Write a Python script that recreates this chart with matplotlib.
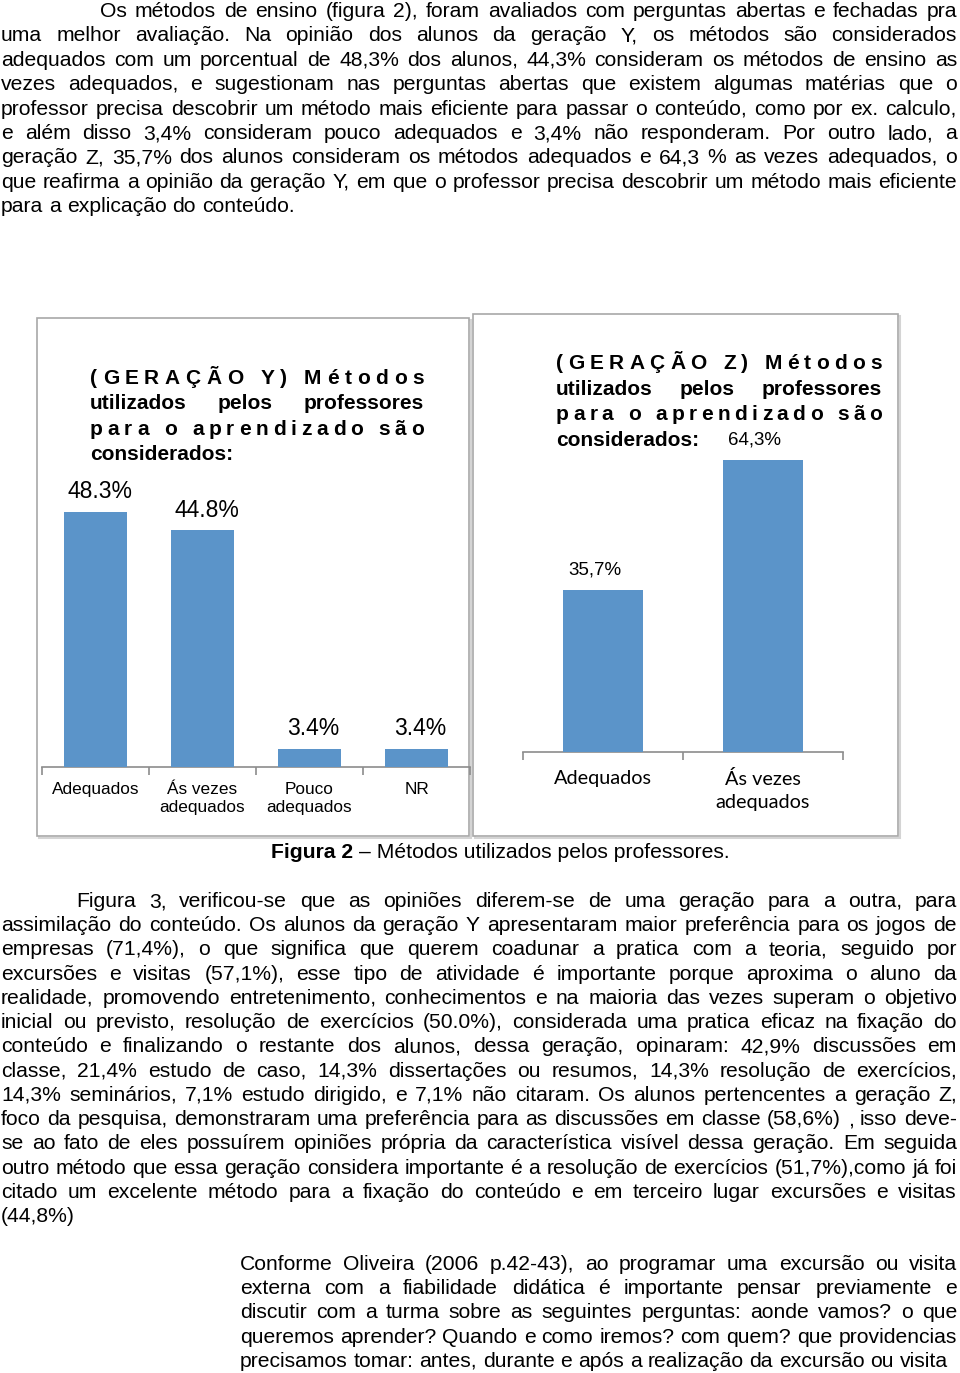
import matplotlib
matplotlib.use("Agg")
import matplotlib.pyplot as plt
from matplotlib.font_manager import FontProperties
from matplotlib.patches import Rectangle

# texto da pagina
par1 = [
    "Os métodos de ensino (figura 2), foram avaliados com perguntas abertas e fechadas pra",
    "uma melhor avaliação. Na opinião dos alunos da geração Y, os métodos são considerados",
    "adequados com um porcentual de 48,3% dos alunos, 44,3% consideram os métodos de ensino as",
    "vezes adequados, e sugestionam  nas perguntas abertas que existem algumas matérias que o",
    "professor precisa descobrir um método mais eficiente para passar o conteúdo, como por ex. calculo,",
    "e além disso 3,4% consideram pouco adequados e 3,4% não responderam.  Por outro lado, a",
    "geração Z, 35,7% dos alunos consideram os métodos adequados e 64,3 % as vezes adequados, o",
    "que reafirma a opinião da geração Y, em que o professor precisa descobrir um método mais eficiente",
    "para a explicação do conteúdo.",
]
par2 = [
    "Figura 3, verificou-se que as opiniões diferem-se de uma geração para a outra, para",
    "assimilação do conteúdo. Os alunos da geração Y apresentaram maior preferência para os jogos de",
    "empresas (71,4%), o que significa que querem coadunar a pratica com a teoria, seguido por",
    "excursões e visitas (57,1%), esse tipo de atividade é importante porque aproxima o aluno da",
    "realidade, promovendo entretenimento, conhecimentos e na maioria das vezes superam o objetivo",
    "inicial ou previsto, resolução de exercícios (50.0%), considerada uma pratica eficaz na fixação do",
    "conteúdo e finalizando o restante dos alunos, dessa geração, opinaram: 42,9% discussões em",
    "classe, 21,4% estudo de caso, 14,3% dissertações ou resumos, 14,3% resolução de exercícios,",
    "14,3% seminários, 7,1% estudo dirigido, e 7,1% não citaram. Os alunos pertencentes a geração Z,",
    "foco da pesquisa, demonstraram uma preferência para as discussões em classe (58,6%) , isso deve-",
    "se ao fato de eles possuírem opiniões própria da característica visível dessa geração. Em seguida",
    "outro método que essa geração considera importante é a resolução de exercícios (51,7%),como já foi",
    "citado um excelente método para a fixação do conteúdo e em terceiro lugar excursões e visitas",
    "(44,8%)",
]
par3 = [
    "Conforme Oliveira (2006 p.42-43), ao programar uma excursão ou visita",
    "externa com a fiabilidade didática é importante pensar previamente e",
    "discutir com a turma sobre as seguintes perguntas: aonde vamos? o que",
    "queremos aprender? Quando e como iremos? com quem? que providencias",
    "precisamos tomar: antes, durante e após a realização da excursão ou visita",
]

# dados dos graficos
cat_y = ["Adequados", "Ás vezes\nadequados", "Pouco\nadequados", "NR"]
val_y = [48.3, 44.8, 3.4, 3.4]
title_y = ["(GERAÇÃO Y) Métodos", "utilizados pelos professores",
           "para o aprendizado são", "considerados:"]

cat_z = ["Adequados", "Ás vezes\nadequados"]
val_z = [35.7, 64.3]
title_z = ["(GERAÇÃO Z) Métodos", "utilizados pelos professores",
           "para o aprendizado são", "considerados:"]

W, H = 960, 1373
BLUE = "#5b94c9"
GRAY = "#8c8c8c"

fig = plt.figure(figsize=(W / 100, H / 100), dpi=100)
bg = fig.add_axes([0, 0, 1, 1])
bg.set_xlim(0, W)
bg.set_ylim(H, 0)
bg.axis("off")
renderer = fig.canvas.get_renderer()

body = FontProperties(family="Liberation Sans", size=15.2)
bold_t = FontProperties(family="Liberation Sans", size=15, weight="bold")


def width(s, fp):
    w, h, d = renderer.get_text_width_height_descent(s, fp, ismath=False)
    return w


def put_line(s, x0, x1, y, fp, justify=True, chars=False):
    if chars:
        tokens = list(s)
        ws = [width(t, fp) if t != " " else width("a a", fp) - width("aa", fp) for t in tokens]
        gap = (x1 - x0 - sum(ws)) / (len(tokens) - 1)
        x = x0
        for t, wd in zip(tokens, ws):
            if t != " ":
                bg.text(x, y, t, fontproperties=fp, va="baseline", ha="left")
            x += wd + gap
        return
    tokens = s.split()
    ws = [width(t, fp) for t in tokens]
    if justify and len(tokens) > 1:
        gap = max((x1 - x0 - sum(ws)) / (len(tokens) - 1), 2.5)
    else:
        gap = width("a a", fp) - width("aa", fp)
    x = x0
    for t, wd in zip(tokens, ws):
        bg.text(x, y, t, fontproperties=fp, va="baseline", ha="left")
        x += wd + gap


def paragraph(lines, x0, x1, y0, step, indent=0, last_justify=False):
    for i, ln in enumerate(lines):
        last = i == len(lines) - 1
        put_line(ln, x0 + (indent if i == 0 else 0), x1, y0 + i * step, body,
                 justify=(not last) or last_justify)


paragraph(par1, 1, 957, 17, 24.4, indent=99)
paragraph(par2, 1, 957, 907, 24.23, indent=75)
paragraph(par3, 240, 957, 1270, 24.25)


def box(x, y, w, h):
    bg.add_patch(Rectangle((x + 2, y + 2), w, h, fill=False, ec="#d4d4d4", lw=1.5, zorder=1))
    bg.add_patch(Rectangle((x, y), w, h, fc="white", ec="#a8a8a8", lw=1.2, zorder=2))


box(37, 318, 432, 518)
box(473, 314, 425, 522)


def px_axes(left, top, right, bottom):
    return fig.add_axes([left / W, 1 - bottom / H, (right - left) / W, (bottom - top) / H])


def style_axis(ax, cats, font, pad, ls):
    for sp in ["top", "left", "right"]:
        ax.spines[sp].set_visible(False)
    ax.spines["bottom"].set_color(GRAY)
    ax.spines["bottom"].set_linewidth(1.2)
    ax.patch.set_visible(False)
    ax.set_yticks([])
    n = len(cats)
    ax.set_xlim(-0.5, n - 0.5)
    ax.set_xticks(range(n))
    ax.set_xticklabels(cats, fontproperties=font, linespacing=ls)
    ax.set_xticks([i - 0.5 for i in range(n + 1)], minor=True)
    ax.tick_params(axis="x", which="major", length=0, pad=pad)
    ax.tick_params(axis="x", which="minor", length=6, color=GRAY, width=1.2, direction="out")


# grafico geracao Y
ax1 = px_axes(42, 330, 470, 767)
ax1.set_ylim(0, (767 - 330) / 5.28)
ax1.bar(range(len(val_y)), val_y, width=0.58, color=BLUE, zorder=3)
style_axis(ax1, cat_y, FontProperties(family="Liberation Sans", size=12.4), 11, 1.25)
for i, v in enumerate(val_y):
    ax1.annotate(f"{v:.1f}%", (i, v), xytext=(3, 10), textcoords="offset points",
                 ha="center", va="baseline", family="Liberation Sans", fontsize=16.5)
for i, ln in enumerate(title_y):
    put_line(ln, 90, 424, 384 + i * 25.3, bold_t, justify=(i < 3), chars=(i in (0, 2)))

# grafico geracao Z
ax2 = px_axes(523, 330, 843, 752)
ax2.set_ylim(0, (752 - 330) / 4.54)
ax2.bar(range(len(val_z)), val_z, width=0.5, color=BLUE, zorder=3)
style_axis(ax2, cat_z, FontProperties(family="Lato", size=14.3), 13, 1.45)
for i, v in enumerate(val_z):
    ax2.annotate(f"{v:.1f}%".replace(".", ","), (i, v), xytext=(-6, 11), textcoords="offset points",
                 ha="center", va="baseline", family="Liberation Sans", fontsize=13.5)
for i, ln in enumerate(title_z):
    put_line(ln, 556, 882, 369 + i * 25.7, bold_t, justify=(i < 3), chars=(i in (0, 2)))

# legenda da figura
cap_b = FontProperties(family="Liberation Sans", size=15.2, weight="bold")
cap_r = FontProperties(family="Liberation Sans", size=15.2)
bg.text(271, 858, "Figura 2", fontproperties=cap_b, va="baseline", ha="left")
bg.text(271 + width("Figura 2 ", cap_b), 858, "– Métodos utilizados pelos professores.",
        fontproperties=cap_r, va="baseline", ha="left")

fig.savefig("out.png", dpi=100)
